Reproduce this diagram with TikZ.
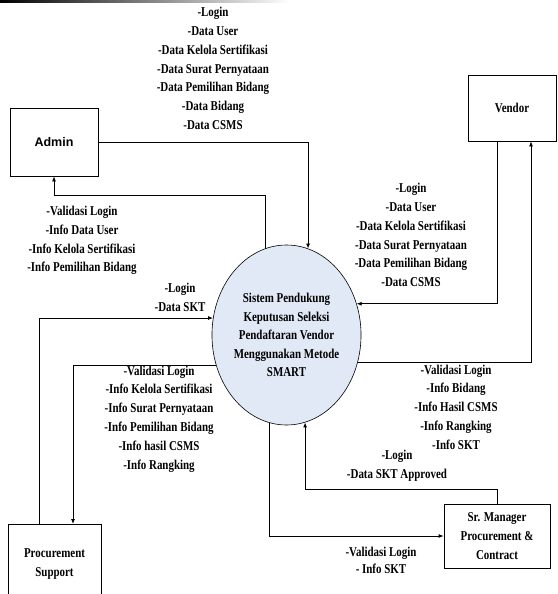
\documentclass[tikz,border=0pt]{standalone}
\usepackage{fontspec}
\setmainfont{Liberation Serif}[FakeStretch=0.81]
\newfontfamily\arialfont{Liberation Sans}
\usetikzlibrary{shapes.geometric,arrows.meta}
\definecolor{procfill}{RGB}{226,233,246}
\tikzset{
  entity/.style={draw, line width=0.8pt, inner sep=0pt, align=center,
                 font=\bfseries\fontsize{13.5}{18.8}\selectfont},
  process/.style={ellipse, draw, line width=0.6pt, fill=procfill, inner sep=0pt,
                  minimum width=123pt, minimum height=180pt, align=center,
                  font=\bfseries\fontsize{13.5}{18.5}\selectfont},
  flowlabel/.style={align=center, inner sep=0pt, font=\bfseries\fontsize{13.5}{18.8}\selectfont},
  flow/.style={line width=0.8pt, -{Latex[length=5pt,width=4pt]}}
}
\begin{document}
\begin{tikzpicture}[x=1pt, y=-1pt]
      \useasboundingbox (0, 0) rectangle (557, 594);
      \shade [left color=black, right color=white] (0, 0) rectangle (290, 2.5);
      % entities and the process
      \node (admin) [entity, minimum width=88pt, minimum height=68pt,
                     font=\arialfont\bfseries\fontsize{12.5}{14}\selectfont] at (54, 142) {Admin};
      \node (vendor) [entity, minimum width=88pt, minimum height=66pt] at (512, 108) {Vendor};
      \node (procsup) [entity, minimum width=93pt, minimum height=74pt, anchor=north] at (54.5, 524)
            {\\[-4pt]Procurement\\Support};
      \node (srmgr) [entity, minimum width=106pt, minimum height=64pt] at (497, 536)
            {Sr. Manager\\Procurement \&\\Contract};
      \node (sys) [process] at (286.5, 335)
            {Sistem Pendukung\\Keputusan Seleksi\\Pendaftaran Vendor\\Menggunakan Metode\\SMART};
      % labels
      \node (ladmin) [flowlabel] at (213, 68.5)
            {-Login\\-Data User\\-Data Kelola Sertifikasi\\-Data Surat Pernyataan\\-Data Pemilihan Bidang\\-Data Bidang\\-Data CSMS};
      \node (lvendor) [flowlabel] at (411, 235)
            {-Login\\-Data User\\-Data Kelola Sertifikasi\\-Data Surat Pernyataan\\-Data Pemilihan Bidang\\-Data CSMS};
      \node (ladminback) [flowlabel] at (82, 240.5)
            {-Validasi Login\\-Info Data User\\-Info Kelola Sertifikasi\\-Info Pemilihan Bidang};
      \node (lprocsup) [flowlabel] at (180, 297.5) {-Login\\-Data SKT};
      \node (lprocsupback) [flowlabel] at (159, 419)
            {-Validasi Login\\-Info Kelola Sertifikasi\\-Info Surat Pernyataan\\-Info Pemilihan Bidang\\-Info hasil CSMS\\-Info Rangking};
      \node (lvendorback) [flowlabel] at (456, 407)
            {-Validasi Login\\-Info Bidang\\-Info Hasil CSMS\\-Info Rangking\\-Info SKT};
      \node (lsrmgr) [flowlabel] at (397, 466) {-Login\\-Data SKT Approved};
      \node (lsrmgrback) [flowlabel, font=\bfseries\fontsize{13.5}{17}\selectfont] at (381, 560.5)
            {-Validasi Login\\- Info SKT};
      % data flows
      \draw [flow] (admin.east) -| (sys.76);
      \draw [flow] (sys.104) |- ([yshift=-19pt]admin.south) -- (admin.south);
      \draw [flow] ([xshift=-15pt]vendor.south) |- (sys.24);
      \draw [flow] (sys.-21) -| ([xshift=19pt]vendor.south);
      \draw [flow] ([xshift=-15.5pt]procsup.north) |- (sys.167);
      \draw [flow] (sys.203) -| ([xshift=18.5pt]procsup.north);
      \draw [flow] (srmgr.north) -- ++(0, -14) -| (sys.-78);
      \draw [flow] (sys.259) |- (srmgr.west);
\end{tikzpicture}
\end{document}
